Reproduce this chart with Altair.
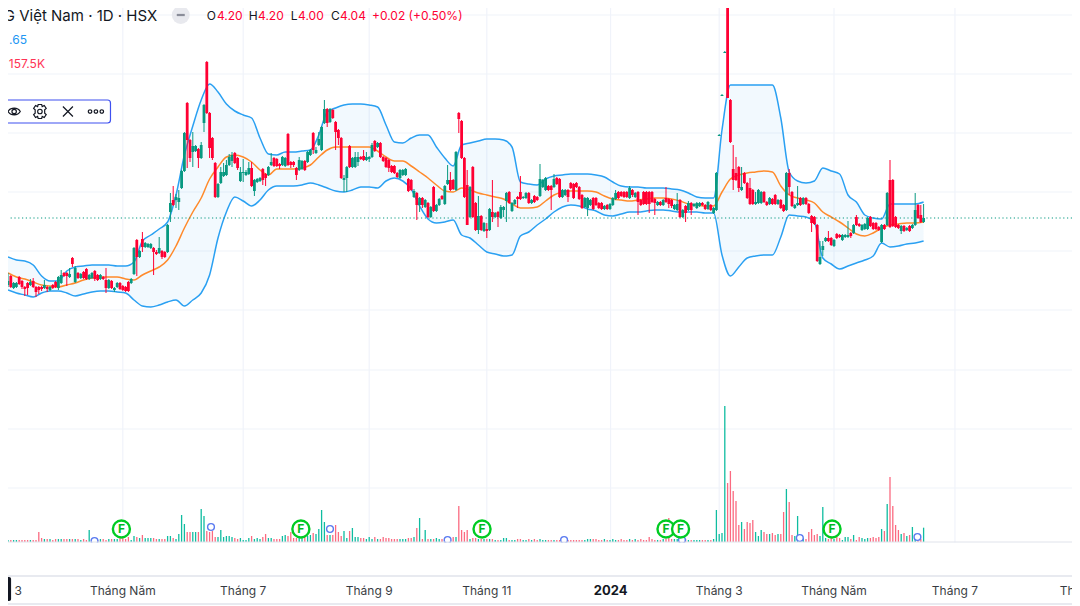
# -*- coding: utf-8 -*-
import altair as alt
import pandas as pd

# gia theo phien (doc tu hinh)
opens = [
    3.37,3.46,3.34,3.35,3.45,3.41,3.35,3.39,3.37,3.41,
    3.35,3.35,3.35,3.34,3.35,3.32,3.37,3.40,3.34,3.39,
    3.49,3.49,3.45,3.64,3.40,3.49,3.44,3.50,3.53,3.43,
    3.44,3.51,3.47,3.43,3.45,3.42,3.34,3.41,3.32,3.35,
    3.39,3.36,3.35,3.40,3.39,3.48,3.82,3.65,3.83,3.75,
    3.75,3.74,3.74,3.70,3.69,3.71,3.70,3.70,4.10,4.22,
    4.22,4.20,4.34,4.51,5.19,4.82,4.70,4.71,4.73,4.64,
    4.99,5.60,5.09,4.84,4.59,4.25,4.39,4.46,4.47,4.57,
    4.61,4.69,4.64,4.41,4.49,4.47,4.48,4.54,4.31,4.40,
    4.41,4.53,4.48,4.47,4.57,4.64,4.63,4.58,4.57,4.56,
    4.88,4.60,4.60,4.54,4.52,4.53,4.61,4.60,4.67,4.89,
    4.69,4.77,4.72,4.99,5.13,5.00,5.12,5.00,4.92,4.84,
    4.42,4.44,4.76,4.55,4.55,4.60,4.65,4.66,4.62,4.63,
    4.65,4.81,4.75,4.79,4.65,4.64,4.62,4.56,4.56,4.49,
    4.44,4.47,4.47,4.43,4.42,4.25,4.29,4.17,4.24,4.15,
    4.19,4.05,4.35,4.11,4.17,4.26,4.18,4.38,4.42,4.42,
    4.32,5.09,5.01,4.64,4.37,4.05,4.55,4.19,3.92,4.06,
    3.91,3.93,3.92,4.10,4.05,4.10,4.04,4.12,4.21,4.30,
    4.11,4.18,4.25,4.30,4.24,4.24,4.29,4.19,4.26,4.25,
    4.26,4.35,4.32,4.36,4.36,4.35,4.44,4.43,4.25,4.27,
    4.32,4.39,4.38,4.39,4.35,4.27,4.15,4.14,4.17,4.24,
    4.24,4.19,4.19,4.13,4.17,4.13,4.17,4.23,4.30,4.30,
    4.30,4.30,4.24,4.32,4.25,4.30,4.22,4.30,4.30,4.30,
    4.30,4.23,4.17,4.20,4.17,4.24,4.23,4.22,4.13,4.12,
    4.22,4.05,4.16,4.12,4.19,4.16,4.14,4.16,4.19,4.17,
    4.13,4.17,4.09,4.12,4.86,5.26,5.69,6.17,5.22,4.53,
    4.49,4.55,4.32,4.49,4.39,4.34,4.32,4.18,4.19,4.19,
    4.30,4.20,4.18,4.23,4.27,4.18,4.22,4.17,4.12,4.49,
    4.30,4.14,4.17,4.24,4.18,4.24,4.18,4.06,4.05,3.97,
    3.58,3.72,3.81,3.84,3.84,3.76,3.88,3.87,3.82,3.85,
    3.85,3.89,3.89,4.05,3.98,3.92,3.93,3.93,4.05,3.99,
    3.99,3.95,3.80,3.97,3.97,4.42,4.42,4.05,3.97,3.91,
    3.96,3.92,3.96,3.94,3.97,4.17,4.07,4.00]
closes = [
    3.41,3.35,3.39,3.39,3.38,3.35,3.33,3.34,3.40,3.35,
    3.30,3.32,3.33,3.37,3.33,3.35,3.34,3.35,3.45,3.47,
    3.46,3.46,3.48,3.58,3.54,3.44,3.48,3.44,3.43,3.47,
    3.49,3.43,3.42,3.47,3.43,3.34,3.42,3.34,3.34,3.39,
    3.33,3.32,3.31,3.31,3.43,3.74,3.65,3.71,3.75,3.79,
    3.78,3.78,3.70,3.68,3.74,3.65,3.65,3.97,4.19,4.17,
    4.25,4.24,4.51,4.89,4.82,4.64,4.76,4.76,4.64,4.77,
    5.17,5.09,4.74,4.64,4.25,4.38,4.50,4.50,4.57,4.65,
    4.67,4.59,4.54,4.50,4.50,4.50,4.54,4.36,4.42,4.43,
    4.44,4.42,4.44,4.55,4.60,4.56,4.56,4.56,4.65,4.64,
    4.57,4.57,4.57,4.47,4.62,4.61,4.52,4.70,4.72,4.72,
    4.72,4.83,4.95,5.13,4.99,5.13,5.04,4.90,4.84,4.44,
    4.44,4.55,4.55,4.64,4.65,4.65,4.63,4.62,4.65,4.65,
    4.77,4.71,4.79,4.65,4.61,4.55,4.54,4.50,4.49,4.45,
    4.52,4.52,4.53,4.31,4.32,4.31,4.17,4.24,4.17,4.22,
    4.05,4.15,4.11,4.17,4.23,4.23,4.36,4.42,4.32,4.33,
    4.70,5.03,4.64,4.25,3.97,4.35,4.05,3.92,4.06,3.92,
    3.99,3.91,4.13,4.05,4.09,4.05,4.15,4.15,4.29,4.19,
    4.19,4.22,4.23,4.23,4.25,4.29,4.19,4.22,4.20,4.22,
    4.43,4.42,4.44,4.32,4.32,4.43,4.38,4.25,4.32,4.32,
    4.25,4.34,4.24,4.35,4.23,4.14,4.24,4.24,4.22,4.13,
    4.17,4.14,4.13,4.16,4.13,4.18,4.24,4.29,4.24,4.26,
    4.25,4.25,4.34,4.27,4.29,4.20,4.17,4.18,4.18,4.18,
    4.20,4.19,4.20,4.17,4.22,4.20,4.18,4.16,4.17,4.18,
    4.05,4.12,4.09,4.19,4.12,4.18,4.19,4.19,4.17,4.13,
    4.20,4.12,4.14,4.49,4.87,5.27,5.70,5.24,4.80,4.42,
    4.42,4.34,4.35,4.39,4.24,4.18,4.18,4.20,4.32,4.30,
    4.20,4.17,4.24,4.18,4.18,4.22,4.14,4.11,4.49,4.35,
    4.16,4.17,4.19,4.17,4.24,4.18,4.09,3.99,3.98,3.61,
    3.65,3.76,3.84,3.81,3.77,3.82,3.84,3.85,3.87,3.87,
    3.87,3.86,3.97,3.97,3.96,3.97,3.98,4.04,3.96,3.93,
    3.93,3.92,3.97,3.93,4.29,3.95,3.96,3.95,3.94,3.96,
    3.91,3.94,3.91,3.97,4.12,4.04,4.00,4.04]
highs = [
    3.49,3.47,3.40,3.40,3.46,3.42,3.36,3.40,3.43,3.44,
    3.36,3.36,3.36,3.42,3.36,3.36,3.38,3.41,3.46,3.52,
    3.50,3.50,3.54,3.65,3.56,3.50,3.49,3.51,3.54,3.48,
    3.50,3.52,3.48,3.48,3.46,3.54,3.43,3.42,3.35,3.40,
    3.40,3.37,3.36,3.41,3.44,3.75,3.83,3.72,3.90,3.80,
    3.79,3.79,3.75,3.72,3.85,3.72,3.71,3.98,4.29,4.36,
    4.28,4.32,4.52,4.90,5.20,4.83,4.90,4.77,4.74,4.80,
    5.18,5.61,5.10,4.85,4.60,4.39,4.55,4.59,4.62,4.68,
    4.70,4.70,4.65,4.55,4.63,4.52,4.60,4.60,4.43,4.44,
    4.45,4.54,4.49,4.56,4.69,4.65,4.64,4.59,4.66,4.65,
    4.89,4.61,4.61,4.55,4.65,4.62,4.62,4.71,4.73,4.90,
    4.75,4.90,4.96,5.22,5.14,5.14,5.13,5.01,4.93,4.85,
    4.47,4.56,4.77,4.65,4.70,4.70,4.66,4.72,4.70,4.66,
    4.79,4.82,4.80,4.80,4.66,4.65,4.63,4.57,4.57,4.50,
    4.53,4.53,4.54,4.44,4.43,4.33,4.30,4.25,4.25,4.23,
    4.20,4.16,4.36,4.18,4.24,4.27,4.37,4.57,4.50,4.43,
    4.71,5.10,5.02,4.65,4.52,4.36,4.56,4.20,4.26,4.07,
    4.00,3.99,4.14,4.42,4.10,4.11,4.17,4.16,4.30,4.31,
    4.20,4.23,4.26,4.46,4.26,4.30,4.30,4.23,4.27,4.26,
    4.58,4.43,4.45,4.37,4.37,4.48,4.45,4.44,4.33,4.33,
    4.33,4.40,4.39,4.40,4.36,4.28,4.25,4.25,4.23,4.25,
    4.25,4.20,4.20,4.17,4.18,4.19,4.25,4.32,4.31,4.31,
    4.31,4.31,4.36,4.33,4.30,4.31,4.23,4.31,4.31,4.31,
    4.31,4.24,4.21,4.21,4.23,4.35,4.24,4.23,4.18,4.29,
    4.23,4.13,4.17,4.21,4.20,4.19,4.20,4.20,4.20,4.18,
    4.21,4.18,4.15,4.50,4.88,5.28,5.71,6.18,5.23,4.77,
    4.65,4.56,4.55,4.50,4.40,4.44,4.33,4.30,4.33,4.31,
    4.31,4.21,4.25,4.24,4.28,4.23,4.23,4.18,4.50,4.53,
    4.31,4.18,4.36,4.25,4.25,4.25,4.19,4.07,4.06,3.98,
    3.81,3.81,3.85,3.91,3.85,3.83,3.89,3.88,3.88,3.88,
    4.01,3.90,3.98,4.07,3.99,3.98,3.99,4.05,4.06,4.00,
    4.00,3.96,3.98,3.98,4.30,4.62,4.43,4.06,3.98,3.97,
    3.97,3.95,3.97,3.98,4.29,4.18,4.17,4.18]
lows = [
    3.35,3.34,3.33,3.34,3.37,3.33,3.26,3.27,3.36,3.34,
    3.25,3.28,3.31,3.33,3.30,3.31,3.33,3.34,3.32,3.38,
    3.45,3.36,3.44,3.55,3.39,3.43,3.43,3.43,3.42,3.42,
    3.43,3.41,3.41,3.42,3.42,3.29,3.33,3.33,3.30,3.34,
    3.32,3.31,3.30,3.30,3.38,3.47,3.46,3.64,3.70,3.74,
    3.74,3.73,3.47,3.67,3.68,3.63,3.64,3.69,4.00,4.16,
    4.14,4.12,4.33,4.50,4.54,4.60,4.55,4.70,4.54,4.63,
    4.90,5.08,4.64,4.62,4.24,4.24,4.38,4.45,4.46,4.56,
    4.55,4.58,4.52,4.40,4.40,4.46,4.47,4.35,4.26,4.39,
    4.40,4.37,4.36,4.46,4.56,4.55,4.55,4.53,4.56,4.55,
    4.56,4.54,4.55,4.42,4.51,4.52,4.51,4.59,4.66,4.68,
    4.68,4.76,4.71,4.98,4.95,4.99,5.03,4.72,4.77,4.43,
    4.30,4.30,4.54,4.54,4.54,4.56,4.62,4.61,4.61,4.60,
    4.64,4.70,4.74,4.64,4.60,4.54,4.50,4.49,4.48,4.44,
    4.43,4.46,4.46,4.30,4.31,4.24,4.02,4.10,4.14,4.14,
    4.04,4.04,4.10,4.10,4.16,4.22,4.17,4.37,4.31,4.32,
    4.31,4.89,4.63,4.24,3.97,4.04,4.04,3.91,3.88,3.91,
    3.90,3.84,3.91,4.00,4.04,3.95,4.03,4.05,4.00,4.18,
    4.10,4.17,4.14,4.22,4.23,4.23,4.18,4.18,4.19,4.21,
    4.25,4.34,4.31,4.31,4.12,4.34,4.37,4.24,4.24,4.26,
    4.20,4.33,4.23,4.34,4.22,4.13,4.14,4.06,4.16,4.12,
    4.16,4.13,4.12,4.12,4.12,4.12,4.16,4.22,4.23,4.25,
    4.24,4.24,4.23,4.25,4.24,4.07,4.16,4.17,4.17,4.09,
    4.19,4.07,4.16,4.16,4.16,4.19,4.14,4.14,4.12,4.11,
    4.04,4.04,4.00,4.11,4.07,4.15,4.13,4.15,4.16,4.12,
    4.12,4.11,4.08,4.11,4.86,5.26,5.69,5.24,4.79,4.32,
    4.41,4.30,4.31,4.38,4.23,4.17,4.17,4.17,4.18,4.18,
    4.19,4.16,4.17,4.17,4.17,4.17,4.13,4.10,4.11,4.27,
    4.15,4.13,4.16,4.16,4.17,4.17,4.08,3.90,3.97,3.60,
    3.57,3.66,3.80,3.80,3.76,3.75,3.83,3.84,3.81,3.84,
    3.84,3.84,3.88,3.96,3.95,3.91,3.92,3.92,3.95,3.92,
    3.92,3.91,3.79,3.92,3.96,3.94,3.95,3.94,3.93,3.88,
    3.90,3.91,3.90,3.93,3.96,4.03,3.99,3.99]
# khoi luong (K)
volumes = [
    22,22,22,22,22,22,22,22,22,22,
    22,110,44,33,33,33,22,33,33,33,
    33,33,33,33,33,33,22,33,22,132,
    22,33,22,33,33,22,33,33,33,33,
    44,44,33,55,22,66,55,44,77,44,
    44,44,44,33,33,33,33,66,66,44,
    33,88,297,198,110,110,110,110,110,363,
    286,121,110,121,55,55,132,55,66,66,
    55,44,33,44,22,22,44,66,33,44,
    33,55,88,44,44,33,33,33,66,77,
    66,110,44,44,44,44,77,66,77,99,
    88,143,352,220,77,77,77,187,110,66,
    121,44,121,154,55,55,44,44,33,55,
    33,55,33,33,55,44,44,33,33,33,
    33,33,33,44,44,55,154,264,33,132,
    33,33,33,44,33,33,22,33,33,55,
    55,396,132,110,132,33,44,44,33,33,
    33,33,33,33,22,22,22,44,44,22,
    22,22,33,33,22,22,33,22,33,22,
    33,22,22,22,22,22,22,22,22,22,
    22,22,22,22,22,22,22,33,33,33,
    33,22,22,33,22,22,33,22,22,33,
    22,22,33,22,33,22,33,22,22,55,
    33,22,22,22,33,33,264,33,33,33,
    33,33,33,22,22,22,22,22,22,22,
    22,22,33,352,88,99,1496,649,781,561,
    451,187,220,143,220,209,242,110,66,132,
    110,88,88,99,77,88,88,330,583,440,
    77,66,286,55,44,33,110,143,77,88,
    66,385,44,33,44,33,99,44,22,55,
    55,33,77,22,55,44,33,44,44,55,
    44,55,143,121,418,715,396,187,132,88,
    99,66,77,165,55,33,33,157.5]

# Bollinger, moi 3 phien
band_sessions = list(range(0, 328, 3))
band_upper = [
    3.65,3.62,3.61,3.57,3.46,3.41,3.41,3.51,3.55,3.56,
    3.57,3.57,3.57,3.56,3.56,3.60,3.81,3.87,3.93,4.00,
    4.27,4.67,4.96,5.22,5.38,5.30,5.18,5.11,5.07,5.04,
    4.84,4.68,4.67,4.70,4.70,4.71,4.72,4.87,5.10,5.14,
    5.17,5.18,5.18,5.17,5.15,4.97,4.80,4.79,4.84,4.87,
    4.87,4.75,4.64,4.56,4.77,4.79,4.81,4.83,4.83,4.82,
    4.75,4.40,4.38,4.37,4.43,4.46,4.47,4.48,4.48,4.48,
    4.47,4.45,4.40,4.36,4.35,4.35,4.34,4.34,4.34,4.33,
    4.32,4.29,4.25,4.24,4.24,4.92,5.37,5.37,5.37,5.37,
    5.37,5.37,5.04,4.50,4.41,4.39,4.41,4.54,4.51,4.48,
    4.27,4.20,4.07,4.04,4.03,4.18,4.18,4.18,4.18,4.20]
band_lower = [
    3.32,3.29,3.27,3.25,3.29,3.31,3.31,3.29,3.26,3.28,
    3.30,3.31,3.31,3.30,3.29,3.22,3.16,3.15,3.17,3.20,
    3.22,3.16,3.22,3.29,3.47,3.84,4.10,4.25,4.21,4.16,
    4.22,4.32,4.36,4.36,4.36,4.37,4.39,4.37,4.34,4.31,
    4.30,4.32,4.35,4.35,4.34,4.41,4.44,4.41,4.33,4.16,
    4.03,3.99,4.00,4.02,3.87,3.84,3.77,3.70,3.68,3.66,
    3.67,3.86,3.90,3.97,4.03,4.10,4.15,4.17,4.16,4.13,
    4.11,4.07,4.06,4.08,4.10,4.10,4.11,4.12,4.12,4.11,
    4.10,4.10,4.10,4.09,4.09,3.67,3.46,3.55,3.64,3.66,
    3.67,3.67,3.85,4.07,4.06,4.05,4.00,3.64,3.58,3.53,
    3.56,3.59,3.62,3.66,3.79,3.75,3.76,3.78,3.79,3.81]
band_middle = [
    3.49,3.45,3.43,3.40,3.37,3.36,3.35,3.37,3.39,3.42,
    3.44,3.45,3.45,3.45,3.43,3.42,3.47,3.51,3.55,3.62,
    3.76,3.94,4.10,4.24,4.43,4.55,4.65,4.67,4.65,4.60,
    4.52,4.47,4.53,4.53,4.53,4.54,4.57,4.65,4.72,4.75,
    4.75,4.75,4.75,4.75,4.71,4.65,4.61,4.61,4.56,4.50,
    4.44,4.37,4.31,4.30,4.34,4.32,4.29,4.27,4.25,4.23,
    4.18,4.14,4.14,4.15,4.21,4.27,4.30,4.31,4.31,4.31,
    4.30,4.26,4.23,4.22,4.21,4.22,4.23,4.24,4.24,4.23,
    4.21,4.18,4.17,4.16,4.16,4.30,4.43,4.47,4.49,4.50,
    4.51,4.50,4.36,4.27,4.24,4.22,4.19,4.10,4.05,4.00,
    3.94,3.88,3.86,3.89,3.94,3.97,3.98,3.99,3.99,4.00]

# truc thoi gian
tick_sessions = [3.6, 41, 84, 129, 171, 215.2, 254, 295, 338.2, 384]
tick_labels = ['3', 'Tháng Năm', 'Tháng 7', 'Tháng 9', 'Tháng 11', '2024',
               'Tháng 3', 'Tháng Năm', 'Tháng 7', 'Tháng 9']
grid_sessions = [41, 84, 129, 171, 215.2, 254, 295, 338.2]
grid_prices = [6.07, 5.48, 4.89, 4.30, 3.71, 3.12, 2.52, 1.93, 1.34]

# su kien
earning_sessions = [40.5, 104.6, 169.3, 235, 240.2, 294.3]
dividend_sessions = [30.9, 72.5, 115, 157, 198.6, 240.7, 282.8, 324.8]
dividend_prices = [0.81, 0.95, 0.93, 0.82, 0.82, 0.82, 0.84, 0.85]

last_close = 4.04
PRICE_TOP, PRICE_BOTTOM = 6.14, 0.16
SESSION_END = 380
GREEN, RED = '#089981', '#FF0033'
VOL_GREEN, VOL_RED = '#0FBCA0', '#FB6A80'
INK = '#131722'
LINE = '#E0E3EB'
GRID = '#F0F3FA'
FONT = 'Inter'

x_scale = alt.Scale(domain=[0, SESSION_END], nice=False, zero=False)
y_scale = alt.Scale(domain=[PRICE_BOTTOM, PRICE_TOP], nice=False, zero=False)
vol_scale = alt.Scale(domain=[-704, 5874], nice=False, zero=False)


def X(field='x'):
    return alt.X(field + ':Q', scale=x_scale, axis=None)


def Y(field='y'):
    return alt.Y(field + ':Q', scale=y_scale, axis=None)


def label(text, x, y, color=INK, size=12, align='left', weight='normal'):
    """un texte place en coordonnees de donnees (phien, gia)"""
    df = pd.DataFrame({'x': [x], 'y': [y], 't': [text]})
    return alt.Chart(df).mark_text(font=FONT, fontSize=size, color=color, align=align,
                                   baseline='middle', fontWeight=weight).encode(
        x=X(), y=Y(), text='t:N')


def symbol(x, y, shape, size, color=INK, filled=False, width=1.2, fill=None):
    df = pd.DataFrame({'x': x, 'y': y})
    opts = dict(shape=shape, size=size, filled=filled, opacity=1)
    if filled:
        opts['color'] = color
    else:
        opts['stroke'] = color
        opts['strokeWidth'] = width
        if fill:
            opts['fill'] = fill
    return alt.Chart(df).mark_point(**opts).encode(x=X(), y=Y())


def box(x, x2, y, y2, fill, stroke=None, radius=0):
    df = pd.DataFrame({'x': [x], 'x2': [x2], 'y': [y], 'y2': [y2]})
    opts = dict(fill=fill, cornerRadius=radius)
    if stroke:
        opts['stroke'] = stroke
        opts['strokeWidth'] = 1.2
    return alt.Chart(df).mark_rect(**opts).encode(x=X(), x2='x2:Q', y=Y(), y2='y2:Q')


candles = pd.DataFrame({'i': range(len(opens)), 'o': opens, 'h': highs, 'l': lows, 'c': closes, 'v': volumes})
candles['tone'] = [RED if c < o else GREEN for o, c in zip(opens, closes)]
candles['voltone'] = [VOL_RED if c < o else VOL_GREEN for o, c in zip(opens, closes)]
candles['base'] = 0
bands = pd.DataFrame({'x': band_sessions, 'up': band_upper, 'lo': band_lower, 'mid': band_middle})

grid_v = alt.Chart(pd.DataFrame({'x': grid_sessions, 'y': PRICE_TOP, 'y2': 0.46})).mark_rule(
    color=GRID, strokeWidth=1.2).encode(x=X(), y=Y(), y2='y2:Q')
grid_h = alt.Chart(pd.DataFrame({'y': grid_prices})).mark_rule(color=GRID, strokeWidth=1.2).encode(y=Y())

band_fill = alt.Chart(bands).mark_area(color='#2196F3', opacity=0.06, interpolate='monotone').encode(
    x=X(), y=Y('up'), y2='lo:Q')
band_up = alt.Chart(bands).mark_line(color='#2AA0F2', strokeWidth=1.5, interpolate='monotone').encode(x=X(), y=Y('up'))
band_lo = alt.Chart(bands).mark_line(color='#2AA0F2', strokeWidth=1.5, interpolate='monotone').encode(x=X(), y=Y('lo'))
band_mid = alt.Chart(bands).mark_line(color='#FF8A2B', strokeWidth=1.5, interpolate='monotone').encode(x=X(), y=Y('mid'))

last_line = alt.Chart(pd.DataFrame({'y': [last_close]})).mark_rule(
    color=GREEN, strokeWidth=1.2, strokeDash=[1.2, 2.6]).encode(y=Y())

wicks = alt.Chart(candles).mark_rule(strokeWidth=1).encode(
    x=X('i'), y=Y('h'), y2='l:Q', color=alt.Color('tone:N', scale=None))
bodies = alt.Chart(candles).mark_rule(strokeWidth=2.8).encode(
    x=X('i'), y=Y('o'), y2='c:Q', color=alt.Color('tone:N', scale=None))
vols = alt.Chart(candles).mark_rule(strokeWidth=1.3).encode(
    x=X('i'), y=alt.Y('v:Q', scale=vol_scale, axis=None), y2='base:Q',
    color=alt.Color('voltone:N', scale=None))

dividends = symbol(dividend_sessions, dividend_prices, 'circle', 46, '#5B7BF0', width=1.4, fill='#FFFFFF')
earnings = symbol(earning_sessions, [0.93] * len(earning_sessions), 'circle', 290, '#00CC22', width=2.4, fill='#FFFFFF')
earning_text = alt.Chart(pd.DataFrame({'x': earning_sessions, 'y': 0.93, 't': 'F'})).mark_text(
    font=FONT, fontSize=12, fontWeight='bold', color='#00BB22', baseline='middle').encode(x=X(), y=Y(), text='t:N')

# bandes blanches du bas, puis l'echelle de temps
below = box(-5, SESSION_END, 0.795, 0.46, '#FFFFFF')
baseline = alt.Chart(pd.DataFrame({'y': [0.80]})).mark_rule(color=LINE, strokeWidth=1).encode(y=Y())
axis_lines = alt.Chart(pd.DataFrame({'y': [0.46, 0.18]})).mark_rule(color=LINE, strokeWidth=1.5).encode(y=Y())
tick_df = pd.DataFrame({'x': tick_sessions, 'y': 0.31, 't': tick_labels})
ticks_normal = alt.Chart(tick_df[tick_df.t != '2024']).mark_text(
    font=FONT, fontSize=12, color=INK, baseline='middle', opacity=0.85).encode(x=X(), y=Y(), text='t:N')
tick_year = alt.Chart(tick_df[tick_df.t == '2024']).mark_text(
    font=FONT, fontSize=13, fontWeight='bold', color=INK, baseline='middle').encode(
    x=X(), y=Y(), text='t:N')
date_box = box(-5, 1.1, 0.45, 0.21, INK, radius=2)

# en-tete
header = [
    label('G Việt Nam · 1D · HSX', 53.3, 6.06, size=15, align='right'),
    label('O', 71, 6.06), label('4.20', 74.6, 6.06, RED),
    label('H', 86, 6.06), label('4.20', 89.3, 6.06, RED),
    label('L', 101, 6.06), label('4.00', 103.6, 6.06, RED),
    label('C', 115.4, 6.06), label('4.04', 118.6, 6.06, RED),
    label('+0.02 (+0.50%)', 130, 6.06, RED),
    label('.65', 0.4, 5.82, '#2196F3'),
    label('157.5K', 0.3, 5.58, '#FF3355'),
    symbol([61.7], [6.07], 'circle', 320, '#E8E9EE', filled=True),
    symbol([61.7], [6.07], 'M-1,-0.28H1V0.28H-1Z', 64, '#8A8D99', filled=True),
]

# barre d'outils de l'indicateur
eye = 'M-1,0C-0.6,-0.72 0.6,-0.72 1,0C0.6,0.72 -0.6,0.72 -1,0ZM0.36,0A0.36,0.36 0 1,1 -0.36,0A0.36,0.36 0 1,1 0.36,0Z'
gear = ('M-0.25,-1L0.25,-1L0.33,-0.7L0.62,-0.86L0.9,-0.45L0.68,-0.24L0.68,0.24L0.9,0.45L0.62,0.86'
        'L0.33,0.7L0.25,1L-0.25,1L-0.33,0.7L-0.62,0.86L-0.9,0.45L-0.68,0.24L-0.68,-0.24L-0.9,-0.45L-0.62,-0.86L-0.33,-0.7Z'
        'M0.32,0A0.32,0.32 0 1,1 -0.32,0A0.32,0.32 0 1,1 0.32,0Z')
cross = 'M-1,-1L1,1M-1,1L1,-1'
toolbar = [
    box(-5, 36.6, 5.22, 4.99, '#FFFFFF', stroke='#3F51F0', radius=3),
    symbol([2.2], [5.105], eye, 150, INK),
    symbol([11.4], [5.105], gear, 196, INK),
    symbol([21.4], [5.105], cross, 100, INK),
    symbol([29.3, 31.4, 33.5], [5.105] * 3, 'circle', 12, INK),
]

chart = alt.layer(
    grid_v, grid_h, band_fill, band_up, band_lo, band_mid, last_line, vols, wicks, bodies,
    dividends, below, baseline, earnings, earning_text,
    axis_lines, ticks_normal, tick_year, date_box, *header, *toolbar
).resolve_scale(y='independent').properties(
    width=1064, height=598, padding=0, autosize='none', background='#FFFFFF'
).configure_view(stroke=None)

chart.save("out.html", embed_options={"renderer": "svg", "actions": False})
